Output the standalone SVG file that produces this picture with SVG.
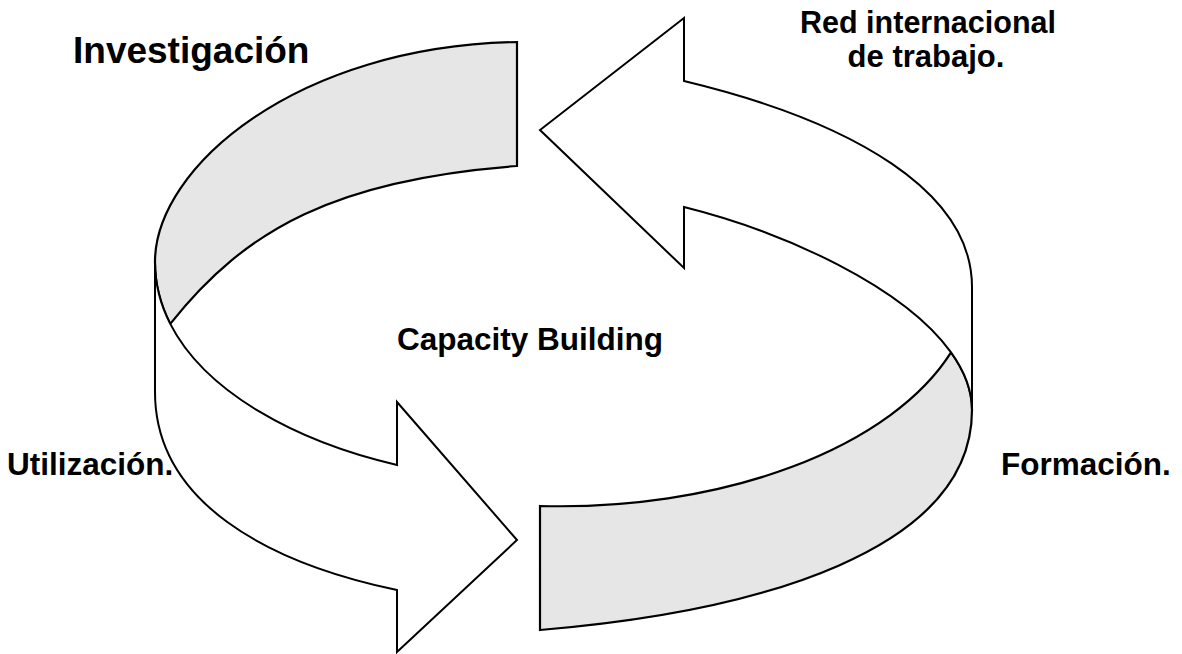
<svg xmlns="http://www.w3.org/2000/svg" width="1182" height="654" viewBox="0 0 1182 654">
<style>
.face{fill:#e6e6e6;stroke:#000;stroke-width:2.2;stroke-linejoin:miter}
.arrow{fill:#fff;stroke:#000;stroke-width:2;stroke-linejoin:miter}
.label{font-family:"Liberation Sans",Arial,sans-serif;font-weight:bold;fill:#000}
</style>
<rect width="1182" height="654" fill="#fff"/>
<g id="connectors">
  <g id="ribbon-left">
    <path class="face" d="M517,42 C297,46 155,167 155,262 C155,284 160.42,304.69 170.26,323.9 C245.6,228.4 337,179.5 517,166 Z"/>
    <path class="arrow" d="M155,262 L155,392 C155,502 267,562.7 397,590 L397,652 L517,540 L397,402 L397,465 C295.6,441.6 205.15,392.04 170.26,323.9 C160.42,304.69 155,284 155,262 Z"/>
  </g>
  <g id="ribbon-right">
    <path class="face" d="M540,506 A414.4,230 0 0 0 951.04,352.39 C964.35,370.86 972,390.2 972,410 C972,550 760,611.7 540,630 Z"/>
    <path class="arrow" d="M684,207 C785.4,232.35 903.84,286.9 951.04,352.39 C964.35,370.86 972,390.2 972,410 L972,287 C972,192 854,121.8 684,81 L684,18 L540,130 L684,268 Z"/>
  </g>
</g>
<g id="investigacion"><text class="label" x="73" y="63" font-size="37">Investigación</text></g>
<g id="red-internacional"><text class="label" x="928" y="33" font-size="30.5" text-anchor="middle">Red internacional</text><text class="label" x="926" y="67" font-size="31" text-anchor="middle">de trabajo.</text></g>
<g id="capacity-building"><text class="label" x="397" y="350" font-size="31.5">Capacity Building</text></g>
<g id="utilizacion"><text class="label" x="7" y="475" font-size="31.5">Utilización.</text></g>
<g id="formacion"><text class="label" x="1001" y="475" font-size="31.5">Formación.</text></g>
</svg>
